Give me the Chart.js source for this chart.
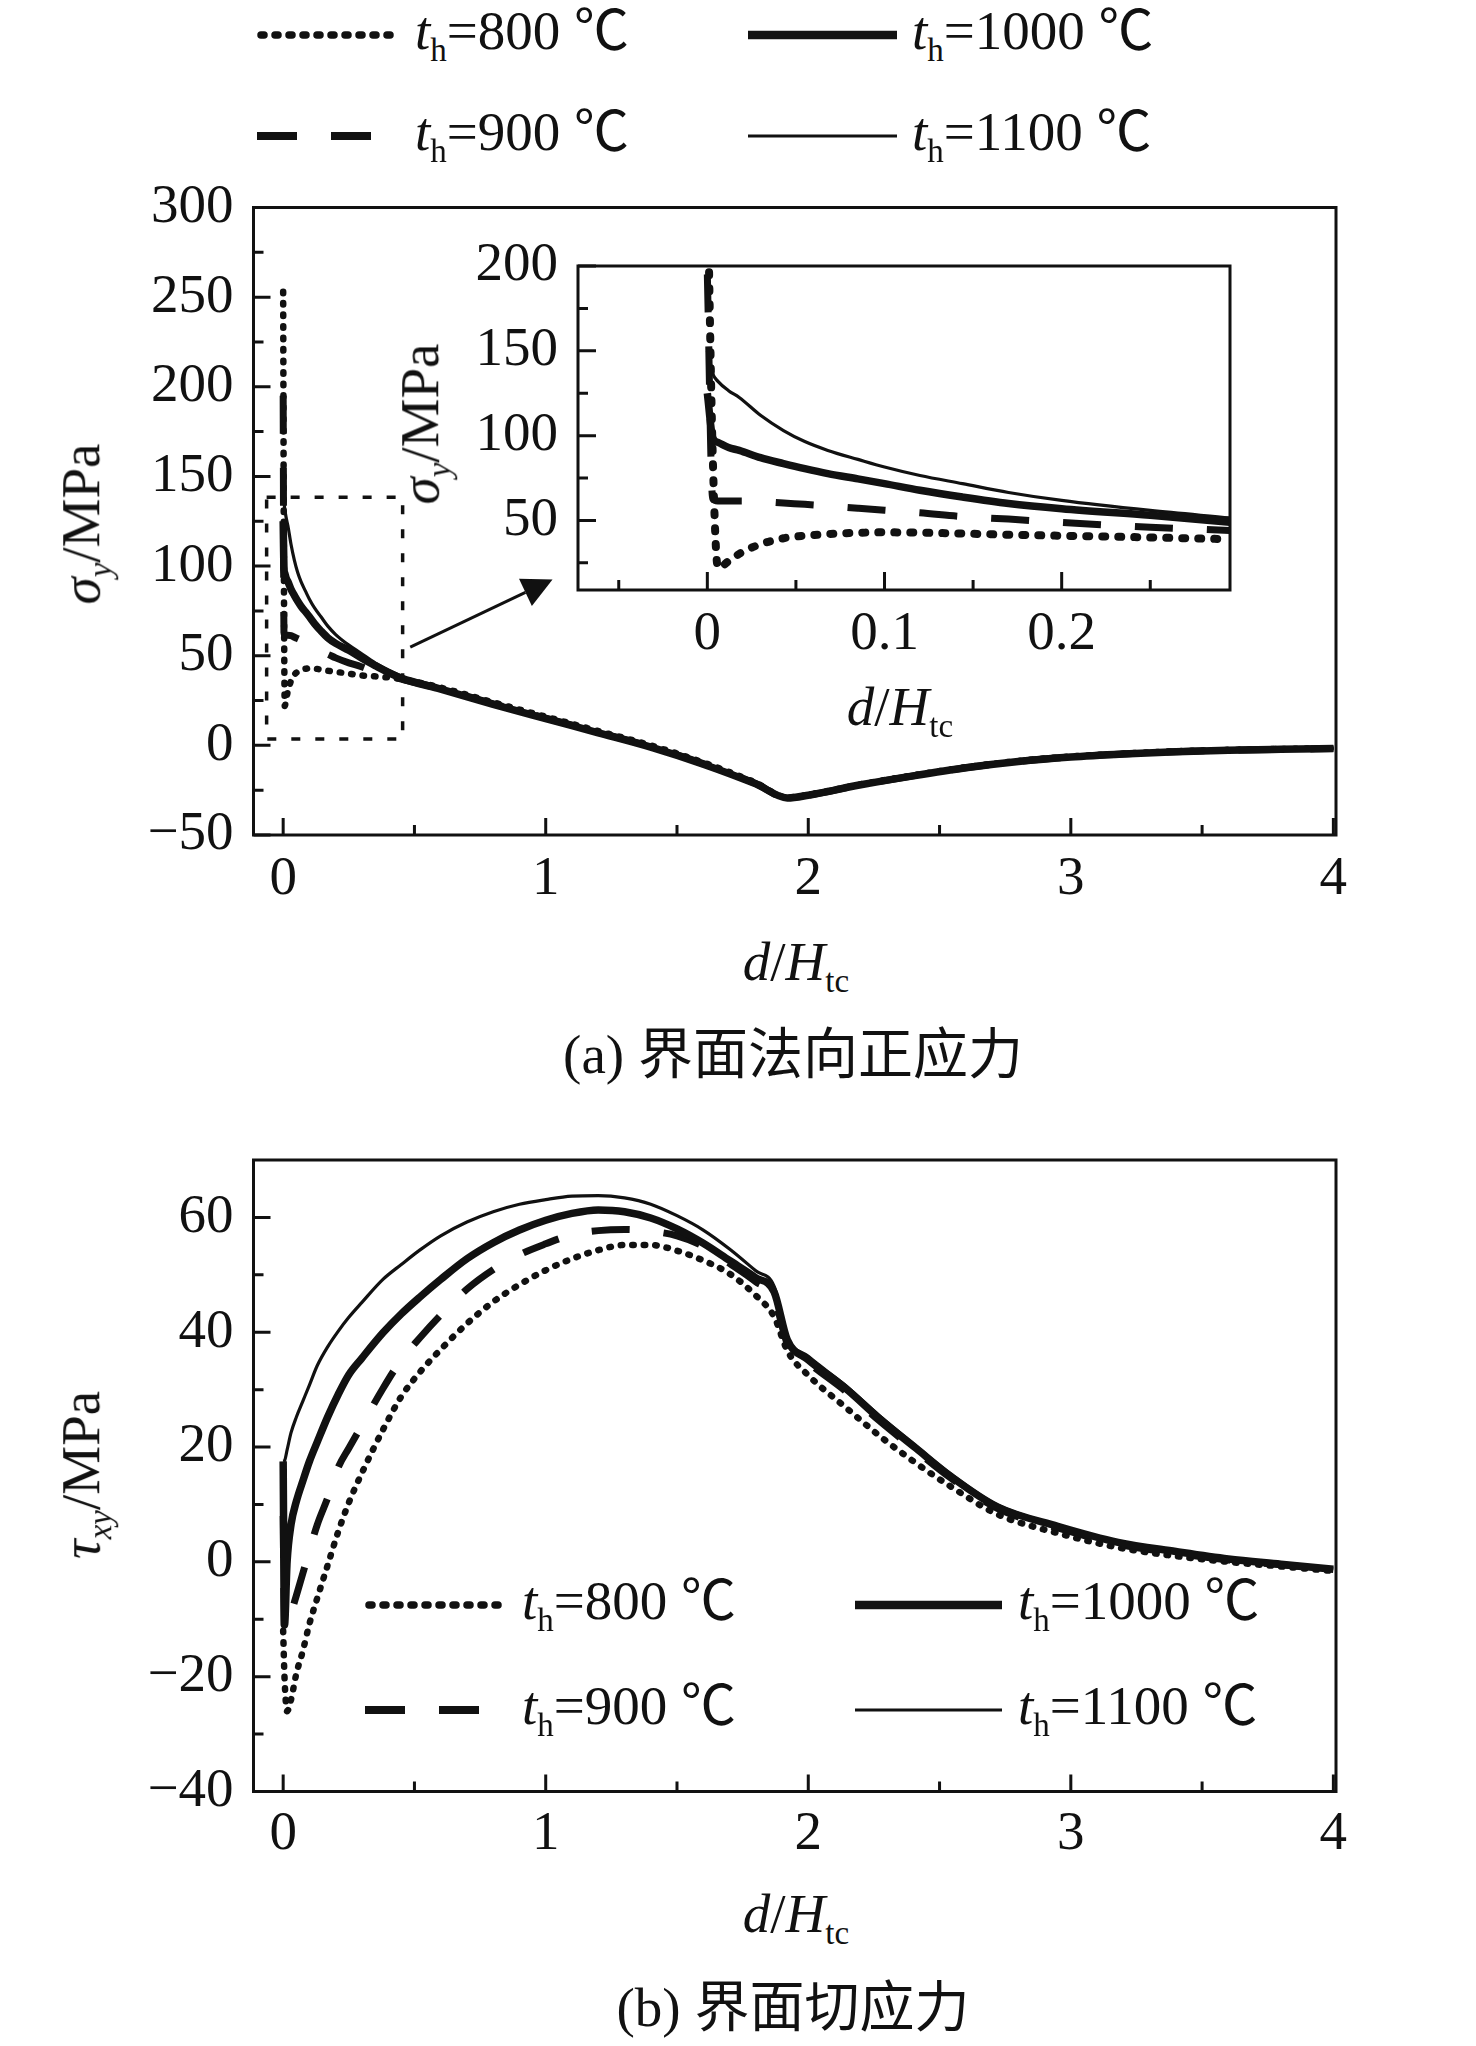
<!DOCTYPE html>
<html>
<head>
<meta charset="utf-8">
<script src="https://cdn.jsdelivr.net/npm/chart.js@4.4.1/dist/chart.umd.min.js"></script>
<style>
html, body { margin: 0; padding: 0; background: #fff; }
body { width: 1476px; height: 2046px; position: relative; overflow: hidden;
       font-family: "Liberation Serif", "Times New Roman", "Noto Sans CJK SC", serif; color: #111; }
canvas { position: absolute; }
.lbl { position: absolute; font-size: 55px; line-height: 1; white-space: nowrap; transform: translate(-50%, -50%); }
.rot { transform: translate(-50%, -50%) rotate(-90deg); }
.sub { font-size: 0.6em; vertical-align: -0.35em; }
.it { font-style: italic; }
.legtxt { position: absolute; font-size: 55px; line-height: 1; white-space: nowrap; transform: translateY(-50%); }
.cjk { font-family: "Liberation Serif", "Noto Sans CJK SC", serif; }
</style>
</head>
<body>
<canvas id="sigChart" width="1400" height="780" style="left:0px;top:150px;width:1400px;height:780px"></canvas>
<canvas id="zoomChart" width="860" height="449" style="left:400px;top:221px;width:860px;height:449px"></canvas>
<canvas id="tauChart" width="1400" height="780" style="left:0px;top:1100px;width:1400px;height:780px"></canvas>

<div class="lbl rot" style="left:85px;top:524px"><span class="it">σ</span><span class="sub it">y</span>/MPa</div>
<div class="lbl" style="left:796px;top:966px"><span class="it">d</span>/<span class="it">H</span><span class="sub">tc</span></div>
<div class="lbl cjk" style="left:793px;top:1054px">(a) 界面法向正应力</div>
<div class="lbl rot" style="left:424px;top:424px"><span class="it">σ</span><span class="sub it">y</span>/MPa</div>
<div class="lbl" style="left:900px;top:711px"><span class="it">d</span>/<span class="it">H</span><span class="sub">tc</span></div>
<div class="lbl rot" style="left:85px;top:1475px"><span class="it">τ</span><span class="sub it">xy</span>/MPa</div>
<div class="lbl" style="left:796px;top:1918px"><span class="it">d</span>/<span class="it">H</span><span class="sub">tc</span></div>
<div class="lbl cjk" style="left:793px;top:2007px">(b) 界面切应力</div>

<script>
// temperaturas das curvas
const legendTemps = ['800', '900', '1000', '1100'];

// (a) tensao normal na interface
const sigX    = [0, 0.003, 0.006, 0.012, 0.018, 0.03, 0.043, 0.055, 0.068, 0.085, 0.1, 0.12, 0.144, 0.17, 0.2, 0.25, 0.295, 0.35, 0.45, 0.6, 0.8, 1.0, 1.2, 1.4, 1.6, 1.8, 1.92, 2.0, 2.2, 2.4, 2.6, 2.8, 3.0, 3.2, 3.4, 3.6, 3.8, 4.0];
const sig800  = [253, 90, 22, 26, 30.3, 36, 39.5, 41, 42, 42.7, 43, 42.8, 42.3, 41.6, 41, 40, 39, 38.5, 37, 32.2, 24, 16, 8, 0, -9.5, -20.8, -29, -27.5, -21.7, -16.7, -12.2, -8.7, -6.2, -4.6, -3.3, -2.5, -2, -1.6];
const sig900  = [195, 63, 61.5, 61.4, 61.4, 61.2, 60.3, 59.5, 58.6, 57.2, 56, 54.5, 52.3, 50.8, 48.8, 46, 44, 41, 37, 31.6, 23.2, 15.2, 7.3, -0.7, -10.2, -21.3, -29.3, -27.8, -22, -17, -12.5, -9, -6.5, -4.8, -3.5, -2.7, -2.2, -1.8];
const sig1000 = [125, 99, 96, 93, 91.3, 87, 83.5, 80.5, 77.6, 74.5, 71.7, 67.8, 63.8, 60, 56.9, 53, 49, 44.5, 37.5, 31.4, 22.9, 14.9, 7, -1, -10.5, -21.5, -29.3, -27.8, -22, -17, -12.5, -9, -6.5, -4.8, -3.5, -2.7, -2.2, -1.8];
const sig1100 = [150, 136.6, 132, 126.5, 122.5, 112, 103, 96.5, 91.3, 86, 81.5, 76.5, 71.7, 66.5, 61.8, 55.9, 51.5, 46, 38.5, 31.3, 22.7, 14.7, 6.8, -1.2, -10.7, -21.7, -29.5, -28, -22.2, -17.2, -12.7, -9.2, -6.6, -4.9, -3.6, -2.8, -2.3, -1.9];

// (b) tensao de cisalhamento
const tauX    = [0, 0.005, 0.015, 0.03, 0.05, 0.075, 0.1, 0.13, 0.17, 0.21, 0.25, 0.3, 0.38, 0.45, 0.52, 0.6, 0.7, 0.8, 0.9, 1.0, 1.1, 1.2, 1.3, 1.4, 1.5, 1.6, 1.7, 1.8, 1.87, 1.92, 2.0, 2.14, 2.27, 2.41, 2.54, 2.72, 2.95, 3.18, 3.4, 3.6, 3.8, 4.0];
const tau800  = [-12, -20, -26, -24, -19.5, -15.5, -10.8, -6.3, -0.5, 5.3, 10.3, 15.5, 23, 28.8, 33, 37, 41.5, 45.3, 48.3, 50.8, 52.8, 54.3, 55.2, 55.2, 54.2, 52.5, 50.2, 46.4, 42.7, 36.8, 32.5, 27, 22, 17.2, 13.2, 8.3, 5, 2.5, 1, 0, -0.8, -1.6];
const tau900  = [8, -12, -11.5, -9, -5.9, -2, 2, 6.5, 11.2, 16.5, 19.8, 23.8, 30.2, 35.2, 39, 43, 47.5, 50.9, 53.5, 55.4, 57, 57.7, 57.9, 57.6, 56.8, 55, 52, 48.8, 46, 38, 34.7, 29.8, 24.6, 19.4, 14.7, 9.3, 5.9, 3.1, 1.5, 0.3, -0.5, -1.4];
const tau1000 = [17.5, -11, 0, 6.5, 10.5, 14.1, 17.5, 20.9, 25.3, 29.2, 32.6, 35.5, 39.9, 43.2, 46.1, 49.2, 52.8, 55.6, 57.8, 59.5, 60.7, 61.3, 61, 59.9, 58, 55.5, 52.5, 49.5, 47, 38.7, 35.2, 30.3, 25, 19.8, 15, 9.6, 6.2, 3.4, 1.8, 0.5, -0.4, -1.3];
const tau1100 = [17.5, 17.6, 19.5, 22.5, 25.2, 28, 30.8, 34.2, 37.5, 40.2, 42.6, 45.2, 49.2, 51.8, 54.3, 56.8, 59.2, 61, 62.3, 63.1, 63.7, 63.8, 63.4, 62.3, 60.3, 57.8, 54.5, 50.7, 48, 39.2, 35.8, 30.8, 25.5, 20.2, 15.4, 9.9, 6.4, 3.6, 2, 0.7, -0.3, -1.2];

// marcas dos eixos
const mainXTicks  = [0, 1, 2, 3, 4];
const mainXMinor  = [0.5, 1.5, 2.5, 3.5];
const sigYTicks   = [-50, 0, 50, 100, 150, 200, 250, 300];
const sigYMinor   = [-25, 25, 75, 125, 175, 225, 275];
const zoomXTicks  = [0, 0.1, 0.2];
const zoomXMinor  = [-0.05, 0.05, 0.15, 0.25];
const zoomYTicks  = [50, 100, 150, 200];
const zoomYMinor  = [25, 75, 125, 175];
const tauYTicks   = [-40, -20, 0, 20, 40, 60];
const tauYMinor   = [-30, -10, 10, 30, 50];

// retangulo de zoom e seta (coordenadas de dados)
const zoomBoxX = [-0.063, 0.455];
const zoomBoxY = [3.6, 138.4];
const arrowFrom = [0.484, 54.8];
const arrowTo   = [1.026, 92.5];

Chart.defaults.font.family = '"Liberation Serif", "Times New Roman", serif';
Chart.defaults.color = '#111';

// estilo de cada curva (mesma ordem de legendTemps)
const lineStyles = [
    { borderWidth: 6.5, borderDash: [1.5, 10], borderCapStyle: 'round' },
    { borderWidth: 7, borderDash: [38, 34], borderCapStyle: 'butt' },
    { borderWidth: 7.5, borderDash: [], borderCapStyle: 'butt' },
    { borderWidth: 3.2, borderDash: [], borderCapStyle: 'butt' }
];
// pontilhado mais grosso no detalhe
const zoomDotStyle = { borderWidth: 8, borderDash: [3, 13], borderCapStyle: 'round' };

function montarDatasets(xs, series, dotStyle) {
    // desenha a grossa primeiro e a fina por cima
    const ordem = [2, 1, 0, 3];
    return ordem.map(i => Object.assign({
        label: legendTemps[i],
        data: xs.map((x, k) => ({ x: x, y: series[i][k] })),
        borderColor: '#111',
        pointRadius: 0,
        fill: false,
        cubicInterpolationMode: 'monotone',
        borderJoinStyle: 'round',
        clip: 0
    }, lineStyles[i], (i === 0 && dotStyle) ? dotStyle : {}));
}

function menos(v) {
    return String(v).replace('-', '\u2212');
}

// caixa + tracinhos para dentro
const frameTicks = {
    id: 'frameTicks',
    beforeDatasetsDraw(chart, args, o) {
        if (!o.whiteBg) return;
        const a = chart.chartArea;
        chart.ctx.save();
        chart.ctx.fillStyle = '#fff';
        chart.ctx.fillRect(a.left, a.top, a.right - a.left, a.bottom - a.top);
        chart.ctx.restore();
    },
    afterDatasetsDraw(chart, args, o) {
        const ctx = chart.ctx;
        const a = chart.chartArea;
        const x = chart.scales.x, y = chart.scales.y;
        ctx.save();
        ctx.strokeStyle = '#111';
        ctx.lineWidth = 3;
        ctx.beginPath();
        x.ticks.forEach(t => {
            const px = x.getPixelForValue(t.value);
            ctx.moveTo(px, a.bottom); ctx.lineTo(px, a.bottom - o.major);
        });
        o.xMinor.forEach(v => {
            const px = x.getPixelForValue(v);
            ctx.moveTo(px, a.bottom); ctx.lineTo(px, a.bottom - o.minor);
        });
        y.ticks.forEach(t => {
            const py = y.getPixelForValue(t.value);
            ctx.moveTo(a.left, py); ctx.lineTo(a.left + o.major, py);
        });
        o.yMinor.forEach(v => {
            const py = y.getPixelForValue(v);
            ctx.moveTo(a.left, py); ctx.lineTo(a.left + o.minor, py);
        });
        ctx.stroke();
        ctx.strokeRect(a.left, a.top, a.right - a.left, a.bottom - a.top);
        ctx.restore();
    }
};

// retangulo pontilhado e seta apontando para o detalhe
const zoomMarks = {
    id: 'zoomMarks',
    afterDatasetsDraw(chart) {
        const ctx = chart.ctx;
        const x = chart.scales.x, y = chart.scales.y;
        const x0 = x.getPixelForValue(zoomBoxX[0]), x1 = x.getPixelForValue(zoomBoxX[1]);
        const y0 = y.getPixelForValue(zoomBoxY[0]), y1 = y.getPixelForValue(zoomBoxY[1]);
        ctx.save();
        ctx.strokeStyle = '#111';
        ctx.lineWidth = 3.5;
        ctx.setLineDash([9, 15]);
        ctx.strokeRect(x0, y1, x1 - x0, y0 - y1);
        ctx.setLineDash([]);
        const ax = x.getPixelForValue(arrowFrom[0]), ay = y.getPixelForValue(arrowFrom[1]);
        const bx = x.getPixelForValue(arrowTo[0]), by = y.getPixelForValue(arrowTo[1]);
        const ang = Math.atan2(by - ay, bx - ax);
        const len = 30, half = 15;
        const cx = bx - len * Math.cos(ang), cy = by - len * Math.sin(ang);
        ctx.lineWidth = 3;
        ctx.beginPath();
        ctx.moveTo(ax, ay); ctx.lineTo(cx, cy);
        ctx.stroke();
        ctx.fillStyle = '#111';
        ctx.beginPath();
        ctx.moveTo(bx, by);
        ctx.lineTo(cx + half * Math.sin(ang), cy - half * Math.cos(ang));
        ctx.lineTo(cx - half * Math.sin(ang), cy + half * Math.cos(ang));
        ctx.closePath();
        ctx.fill();
        ctx.restore();
    }
};

function montarGrafico(id, xs, series, cfg) {
    const ctx = document.getElementById(id).getContext('2d');
    return new Chart(ctx, {
        type: 'line',
        data: { datasets: montarDatasets(xs, series, cfg.dotStyle) },
        plugins: cfg.extra ? [frameTicks, cfg.extra] : [frameTicks],
        options: {
            responsive: false,
            animation: false,
            devicePixelRatio: 1,
            events: [],
            layout: { padding: cfg.padding },
            plugins: {
                legend: { display: false },
                tooltip: { enabled: false },
                frameTicks: { xMinor: cfg.xMinor, yMinor: cfg.yMinor, major: cfg.major, minor: cfg.minor, whiteBg: !!cfg.whiteBg }
            },
            scales: {
                x: {
                    type: 'linear',
                    min: cfg.xMin, max: cfg.xMax,
                    grid: { display: false },
                    border: { display: false },
                    afterBuildTicks: s => { s.ticks = cfg.xTicks.map(v => ({ value: v })); },
                    afterFit: s => { s.height = cfg.xHeight; },
                    ticks: { font: { size: 55 }, color: '#111', padding: cfg.xPad, maxRotation: 0, autoSkip: false,
                             callback: v => menos(v) }
                },
                y: {
                    type: 'linear',
                    min: cfg.yMin, max: cfg.yMax,
                    grid: { display: false },
                    border: { display: false },
                    afterBuildTicks: s => { s.ticks = cfg.yTicks.map(v => ({ value: v })); },
                    afterFit: s => { s.width = cfg.yWidth; },
                    ticks: { font: { size: 55 }, color: '#111', padding: cfg.yPad, autoSkip: false,
                             callback: v => menos(v) }
                }
            }
        }
    });
}

const sigSeries = [sig800, sig900, sig1000, sig1100];
const tauSeries = [tau800, tau900, tau1000, tau1100];

montarGrafico('sigChart', sigX, sigSeries, {
    xMin: -0.113, xMax: 4.01, yMin: -50, yMax: 300,
    xTicks: mainXTicks, yTicks: sigYTicks, xMinor: mainXMinor, yMinor: sigYMinor,
    padding: { left: 0, right: 64, top: 57.5, bottom: 0 },
    xHeight: 95, yWidth: 253.5, xPad: 4, yPad: 12, major: 17, minor: 10,
    extra: zoomMarks
});

montarGrafico('zoomChart', sigX, sigSeries, {
    xMin: -0.073, xMax: 0.295, yMin: 9, yMax: 200,
    xTicks: zoomXTicks, yTicks: zoomYTicks, xMinor: zoomXMinor, yMinor: zoomYMinor,
    padding: { left: 0, right: 30, top: 45, bottom: 0 },
    xHeight: 80, yWidth: 178, xPad: 4, yPad: 12, major: 18, minor: 10,
    whiteBg: true, dotStyle: zoomDotStyle
});

montarGrafico('tauChart', tauX, tauSeries, {
    xMin: -0.113, xMax: 4.01, yMin: -40, yMax: 70,
    xTicks: mainXTicks, yTicks: tauYTicks, xMinor: mainXMinor, yMinor: tauYMinor,
    padding: { left: 0, right: 64, top: 60, bottom: 0 },
    xHeight: 88.5, yWidth: 253.5, xPad: 2, yPad: 12, major: 17, minor: 10
});

// legendas (amostra de linha + texto)
const legendStyles = [
    { w: 7.5, dash: '3 11', cap: 'round' },
    { w: 8, dash: '40 34', cap: 'butt' },
    { w: 8.5, dash: '', cap: 'butt' },
    { w: 3.2, dash: '', cap: 'butt' }
];

function legenda(posicoes) {
    posicoes.forEach(p => {
        const st = legendStyles[p.i];
        const len = p.x1 - p.x0;
        const svg = document.createElementNS('http://www.w3.org/2000/svg', 'svg');
        svg.setAttribute('width', len + 10);
        svg.setAttribute('height', 20);
        svg.style.position = 'absolute';
        svg.style.left = (p.x0 - 5) + 'px';
        svg.style.top = (p.y - 10) + 'px';
        const ln = document.createElementNS('http://www.w3.org/2000/svg', 'line');
        ln.setAttribute('x1', st.cap === 'round' ? 9 : 5);
        ln.setAttribute('x2', len + 5);
        ln.setAttribute('y1', 10);
        ln.setAttribute('y2', 10);
        ln.setAttribute('stroke', '#111');
        ln.setAttribute('stroke-width', st.w);
        ln.setAttribute('stroke-linecap', st.cap);
        if (st.dash) ln.setAttribute('stroke-dasharray', st.dash);
        svg.appendChild(ln);
        document.body.appendChild(svg);

        const t = document.createElement('div');
        t.className = 'legtxt';
        t.style.left = p.tx + 'px';
        t.style.top = p.y + 'px';
        t.innerHTML = '<span class="it">t</span><span class="sub">h</span>=' + legendTemps[p.i] + ' \u2103';
        document.body.appendChild(t);
    });
}

legenda([
    { i: 0, x0: 257, x1: 396, tx: 415, y: 35 },
    { i: 2, x0: 748, x1: 897, tx: 912, y: 35 },
    { i: 1, x0: 257, x1: 396, tx: 415, y: 136 },
    { i: 3, x0: 748, x1: 897, tx: 912, y: 136 }
]);

legenda([
    { i: 0, x0: 365, x1: 506, tx: 522, y: 1605 },
    { i: 2, x0: 855, x1: 1002, tx: 1018, y: 1605 },
    { i: 1, x0: 365, x1: 506, tx: 522, y: 1710 },
    { i: 3, x0: 855, x1: 1002, tx: 1018, y: 1710 }
]);
</script>
</body>
</html>
